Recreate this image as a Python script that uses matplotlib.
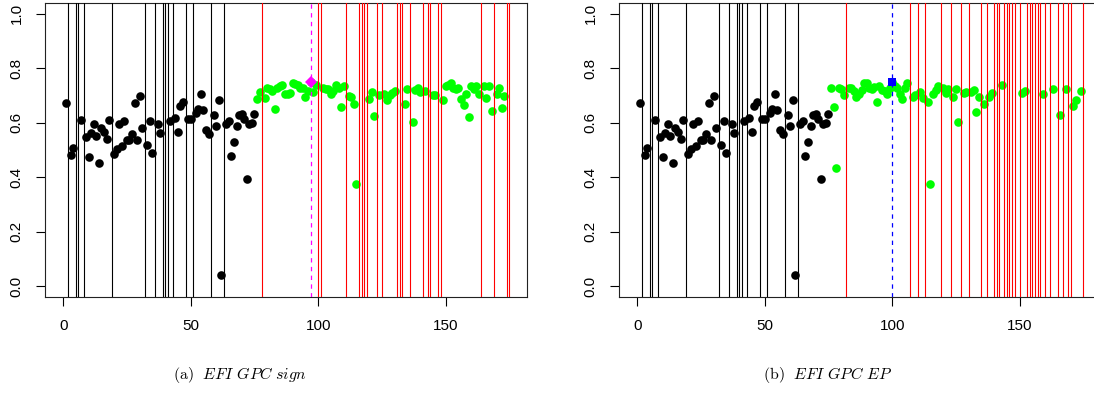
import numpy as np
import matplotlib
matplotlib.use("Agg")
import matplotlib.pyplot as plt

nan = np.nan

# initial design (iterations 1..75), NaN = infeasible
black_vals = [
    0.673, nan, 0.480, 0.509, nan, nan, 0.609, nan, 0.549, 0.476,
    0.563, 0.595, 0.551, 0.451, 0.582, 0.565, 0.539, 0.609, nan, 0.486,
    0.505, 0.595, 0.515, 0.605, 0.535, 0.537, 0.559, 0.673, 0.537, 0.698,
    0.582, nan, 0.518, 0.605, 0.488, nan, 0.594, 0.561, nan, nan,
    nan, 0.607, nan, 0.617, 0.565, 0.661, 0.676, nan, 0.612, 0.612,
    nan, 0.634, 0.652, 0.705, 0.648, 0.574, 0.557, nan, 0.630, 0.589,
    0.685, 0.041, nan, 0.595, 0.607, 0.478, 0.529, 0.589, 0.630, 0.633,
    0.612, 0.394, 0.595, 0.600, 0.632,
]
black_lines = [2, 5, 6, 8, 19, 32, 36, 39, 40, 41, 43, 48, 51, 58, 63]

# (a) EFI GPC sign, iterations 76..175
green_a = [
    0.687, 0.713, nan, 0.689, 0.727, 0.722, 0.717, 0.649, 0.729, 0.733,
    0.740, 0.705, 0.704, 0.708, 0.746, 0.743, 0.740, 0.726, 0.728, 0.695,
    0.718, 0.750, 0.713, 0.738, nan, nan, 0.729, 0.725, 0.722, 0.705,
    0.718, 0.740, 0.728, 0.659, 0.734, nan, 0.699, 0.695, 0.667, 0.374,
    nan, nan, nan, nan, 0.687, 0.713, 0.626, nan, 0.701, nan,
    0.707, 0.683, 0.701, 0.710, 0.717, nan, nan, nan, 0.667, 0.722,
    nan, 0.604, 0.720, 0.726, 0.713, nan, 0.717, nan, nan, 0.701,
    0.701, nan, nan, 0.685, 0.734, 0.738, 0.744, 0.729, 0.723, 0.726,
    0.687, 0.665, 0.707, 0.620, 0.734, 0.722, 0.734, 0.707, nan, 0.734,
    0.689, 0.734, 0.644, nan, 0.707, 0.726, 0.655, 0.698, nan, nan,
]
red_lines_a = [78, 100, 101, 111, 116, 117, 118, 119, 123, 125, 131, 132, 133,
               136, 141, 143, 144, 147, 148, 164, 169, 174, 175]
best_a_iter = 97
best_a_val = 0.750

# (b) EFI GPC EP, iterations 76..175
green_b = [
    0.726, 0.659, 0.433, 0.726, 0.722, 0.701, nan, 0.729, 0.729, 0.715,
    0.695, 0.707, 0.720, 0.744, 0.746, 0.729, 0.722, 0.732, 0.677, 0.734,
    0.720, 0.715, 0.707, 0.729, 0.750, 0.735, 0.726, 0.707, 0.688, 0.729,
    0.744, nan, 0.695, 0.700, nan, 0.713, 0.689, nan, 0.677, 0.374,
    0.704, 0.720, 0.734, nan, 0.729, 0.710, 0.722, nan, 0.693, 0.722,
    0.604, nan, 0.710, 0.712, nan, 0.712, 0.720, 0.640, 0.695, nan,
    0.668, nan, 0.695, 0.710, nan, nan, nan, 0.740, nan, nan,
    nan, nan, nan, nan, nan, 0.710, 0.717, nan, nan, nan,
    nan, nan, nan, 0.705, nan, nan, nan, 0.722, nan, nan,
    0.628, nan, 0.724, nan, nan, 0.661, 0.685, nan, 0.717, nan,
]
red_lines_b = [82, 107, 110, 113, 119, 123, 127, 130, 135, 137, 140, 141, 142,
               144, 145, 146, 147, 148, 150, 153, 154, 155, 156, 157, 158, 160,
               162, 165, 167, 169, 170, 175]
best_b_iter = 100
best_b_val = 0.750

x_ticks = [0, 50, 100, 150]
y_ticks = [0.0, 0.2, 0.4, 0.6, 0.8, 1.0]
y_tick_labels = ["0.0", "0.2", "0.4", "0.6", "0.8", "1.0"]
captions = [r"$\mathrm{(a)}\ \ \mathit{EFI\ GPC\ sign}$",
            r"$\mathrm{(b)}\ \ \mathit{EFI\ GPC\ EP}$"]

plt.rcParams["font.family"] = ["Liberation Sans", "DejaVu Sans"]
plt.rcParams["mathtext.fontset"] = "cm"

W, H = 1094, 407
fig = plt.figure(figsize=(W / 100, H / 100), dpi=100)

ax_w = 482 / W
ax_h = 294.6 / H
ax_y0 = (H - 297.3) / H
ax_a = fig.add_axes([45.3 / W, ax_y0, ax_w, ax_h])
ax_b = fig.add_axes([619.3 / W, ax_y0, ax_w, ax_h])


def panel(ax, green, red_lines, best_iter, best_val, best_color, best_marker, best_ms):
    n_init = len(black_vals)
    it_init = np.arange(1, n_init + 1)
    it_seq = np.arange(n_init + 1, n_init + len(green) + 1)
    ax.plot(it_init, black_vals, "o", color="black", ms=6.2, mew=0, zorder=2)
    ax.plot(it_seq, green, "o", color="#00ff00", ms=6.2, mew=0, zorder=2)
    for v in black_lines:
        ax.axvline(v, color="black", lw=0.8, zorder=3)
    for v in red_lines:
        ax.axvline(v, color="#ff0000", lw=0.8, zorder=3)
    ax.axvline(best_iter, color=best_color, lw=0.9, ls=(0, (3.5, 3.5)), zorder=3)
    ax.plot([best_iter], [best_val], marker=best_marker, color=best_color,
            ms=best_ms, mew=0, zorder=4, ls="none")
    ax.set_xlim(-7, 182)
    ax.set_ylim(-0.04, 1.04)
    ax.set_xticks(x_ticks)
    ax.set_xticklabels([str(t) for t in x_ticks])
    ax.set_yticks(y_ticks)
    ax.set_yticklabels(y_tick_labels, rotation=90, va="center")
    ax.tick_params(direction="out", length=6.5, width=0.8, pad=9,
                   labelsize=11, colors="black")
    for s in ax.spines.values():
        s.set_linewidth(0.8)
        s.set_color("#222222")


panel(ax_a, green_a, red_lines_a, best_a_iter, best_a_val, "#ff00ff", "D", 6.5)
panel(ax_b, green_b, red_lines_b, best_b_iter, best_b_val, "#0000ff", "s", 6.0)
# the right panel runs past the picture's right edge
ax_b.spines["right"].set_visible(False)

fig.text(240 / W, 1 - 375 / H, captions[0], ha="center", va="center", fontsize=11.5)
fig.text(828 / W, 1 - 375 / H, captions[1], ha="center", va="center", fontsize=11.5)

fig.savefig("out.png", dpi=100)
